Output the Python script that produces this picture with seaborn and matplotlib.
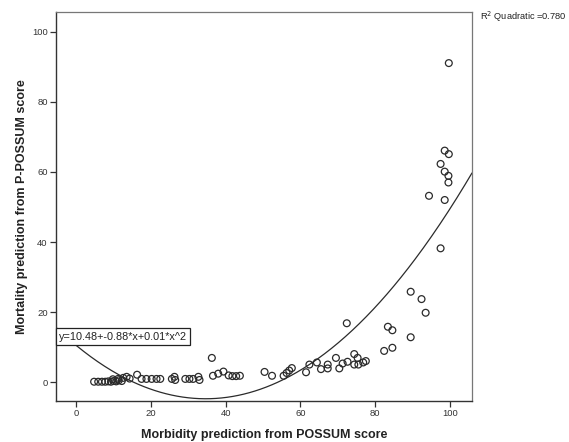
import numpy as np
import pandas as pd
import matplotlib
matplotlib.use("Agg")
import matplotlib.pyplot as plt
import seaborn as sns

# Morbidity (POSSUM) vs mortality (P-POSSUM) predictions, in percent
morbidity = [4.8, 5.9, 6.9, 7.8, 8.6, 9.3, 10.0, 10.7, 11.4, 12.2, 9.8, 11.2,
             12.6, 13.5, 14.3, 16.3, 17.5, 18.8, 20.2, 21.5, 22.5, 25.6, 26.3,
             26.5, 29.2, 30.3, 31.3, 32.7, 33.0, 36.3, 36.6, 38.0, 39.4, 40.8,
             41.8, 42.8, 43.8, 50.4, 52.4, 55.5, 56.3, 57.0, 57.7, 61.5, 62.4,
             64.4, 65.5, 67.3, 67.3, 69.5, 70.4, 71.3, 72.4, 72.6, 74.4, 75.3,
             74.4, 75.5, 76.8, 77.5, 82.4, 83.4, 84.6, 84.6, 89.5, 89.5, 92.4,
             93.5, 94.4, 97.5, 97.5, 98.6, 99.7, 98.6, 99.6, 99.6, 98.6, 99.7]
mortality = [0.1, 0.1, 0.1, 0.1, 0.2, 0.1, 0.3, 0.2, 0.5, 0.3, 0.8, 0.9,
             1.2, 1.5, 1.0, 2.1, 0.9, 0.9, 0.9, 0.9, 0.9, 0.9, 1.5,
             0.6, 0.9, 0.9, 0.9, 1.5, 0.6, 6.9, 1.8, 2.4, 3.0, 1.9,
             1.7, 1.7, 1.8, 2.9, 1.8, 1.8, 2.6, 3.3, 4.0, 2.8, 5.0,
             5.6, 3.7, 5.0, 3.9, 6.9, 3.9, 5.3, 16.8, 5.8, 8.0, 6.9,
             5.0, 5.0, 5.6, 6.0, 8.9, 15.8, 14.8, 9.8, 25.8, 12.8, 23.7,
             19.8, 53.2, 38.2, 62.3, 66.1, 65.1, 60.1, 58.9, 57.0, 52.0, 91.1]

# Quadratic fit y = a + b*x + c*x^2
fit_coef = [10.48, -0.88, 0.0127]
r_squared = 0.780

x_ticks = [0, 20, 40, 60, 80, 100]
y_ticks = [0, 20, 40, 60, 80, 100]

sns.set_theme(style="white")
plt.rcParams["font.family"] = ["Liberation Sans", "DejaVu Sans"]

fig = plt.figure(figsize=(5.69, 4.42), dpi=100)
ax = fig.add_axes([0.0984, 0.0928, 0.7311, 0.8801])

df = pd.DataFrame({"morb": morbidity, "mort": mortality})
sns.scatterplot(data=df, x="morb", y="mort", ax=ax, s=24, marker="o",
                facecolor="none", edgecolor="#2b2b2b", linewidth=0.9, zorder=3)

xlim = (-5.4, 105.9)
ylim = (-5.4, 105.7)
xs = np.linspace(xlim[0], xlim[1], 300)
a, b, c = fit_coef
curve = pd.DataFrame({"x": xs, "y": a + b * xs + c * xs ** 2})
sns.lineplot(data=curve, x="x", y="y", ax=ax, color="#2b2b2b", linewidth=0.9,
             zorder=2)

ax.set_xlim(*xlim)
ax.set_ylim(*ylim)
ax.set_xticks(x_ticks)
ax.set_yticks(y_ticks)
ax.tick_params(axis="both", which="major", direction="out", length=4,
               width=0.9, color="#333333", labelsize=6.8, labelcolor="#333333",
               bottom=True, left=True, pad=2)

for side in ["left", "bottom"]:
    ax.spines[side].set_color("#333333")
    ax.spines[side].set_linewidth(1.0)
for side in ["top", "right"]:
    ax.spines[side].set_color("#777777")
    ax.spines[side].set_linewidth(0.9)
    ax.spines[side].set_linestyle((0, (1.5, 1)))

ax.set_xlabel("Morbidity prediction from POSSUM score", fontsize=9,
              fontweight="bold", color="#222222", labelpad=8)
ax.set_ylabel("Mortality prediction from P-POSSUM score", fontsize=9,
              fontweight="bold", color="#222222", labelpad=3)

eq = f"y={a:.2f}+{b:.2f}*x+{c:.2f}*x^2"
ax.text(-4.6, 12.9, eq, fontsize=7.8, color="#222222", va="center", ha="left",
        zorder=5,
        bbox=dict(boxstyle="square,pad=0.32", facecolor="white",
                  edgecolor="#222222", linewidth=0.9))

fig.text(480 / 569, 1 - 17 / 442, f"R$^2$ Quadratic ={r_squared:.3f}",
         fontsize=6.7, color="#222222", ha="left", va="center")

fig.savefig("out.png", dpi=100, facecolor="white")
